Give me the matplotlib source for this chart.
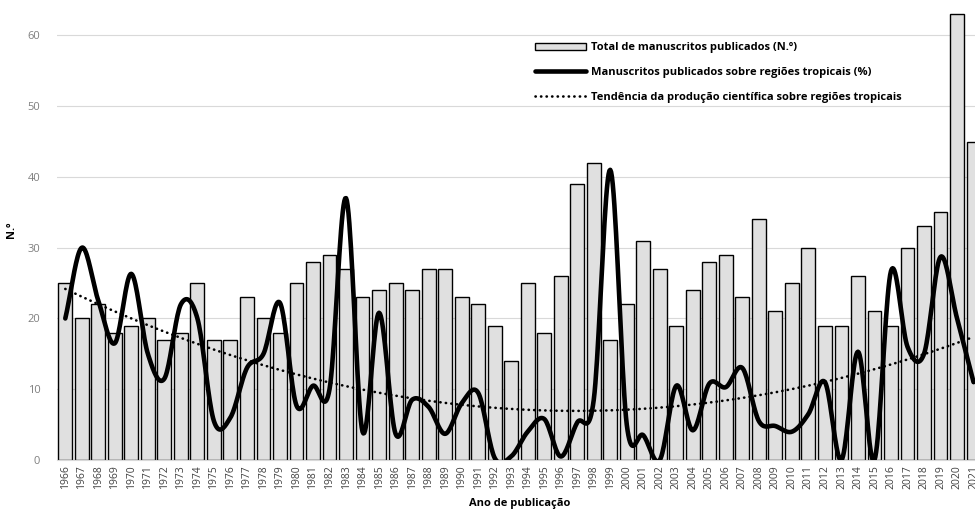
import matplotlib.pyplot as plt
import numpy as np

plt.rcParams['font.family'] = ['Open Sans', 'DejaVu Sans']

years = list(range(1966, 2022))

# total de manuscritos publicados (N.º)
totals = [25, 20, 22, 18, 19, 20, 17, 18, 25, 17,
          17, 23, 20, 18, 25, 28, 29, 27, 23, 24,
          25, 24, 27, 27, 23, 22, 19, 14, 25, 18,
          26, 39, 42, 17, 22, 31, 27, 19, 24, 28,
          29, 23, 34, 21, 25, 30, 19, 19, 26, 21,
          19, 30, 33, 35, 63, 45]

# manuscritos sobre regioes tropicais (%)
tropical = [20, 30, 22.5, 16.5, 26.3, 15, 11.5, 22, 20, 5.5,
            6, 13, 15, 22.2, 7.7, 10.5, 10, 37, 4, 20.8,
            3.7, 8.5, 7.5, 3.7, 8, 9.5, 0.3, 0.5, 4, 5.8,
            0.5, 5.3, 8.5, 41, 5, 3.5, 0, 10.5, 4.2, 10.8,
            10.3, 13, 5.5, 4.8, 4, 6.5, 11, 0, 15.3, 0,
            26.7, 16, 15, 28.7, 20, 11]


def smooth(x, y, n=20):
    # catmull-rom curve, like the excel "smoothed line" option
    x = np.asarray(x, float)
    y = np.asarray(y, float)
    px = np.concatenate([[2 * x[0] - x[1]], x, [2 * x[-1] - x[-2]]])
    py = np.concatenate([[2 * y[0] - y[1]], y, [2 * y[-1] - y[-2]]])
    xs, ys = [], []
    t = np.linspace(0, 1, n, endpoint=False)
    for i in range(1, len(px) - 2):
        for p, out in ((px, xs), (py, ys)):
            p0, p1, p2, p3 = p[i - 1], p[i], p[i + 1], p[i + 2]
            out.extend(0.5 * (2 * p1 + (-p0 + p2) * t
                              + (2 * p0 - 5 * p1 + 4 * p2 - p3) * t ** 2
                              + (-p0 + 3 * p1 - 3 * p2 + p3) * t ** 3))
    xs.append(x[-1])
    ys.append(y[-1])
    return np.array(xs), np.array(ys)


fig = plt.figure(figsize=(9.75, 5.11), dpi=100)
ax = fig.add_axes([0.0585, 0.0998, 0.9485, 0.9002])

pos = np.arange(len(years))
bars = ax.bar(pos, totals, width=0.84, color='#e0e0e0', edgecolor='black',
              linewidth=1.0, label='Total de manuscritos publicados (N.º)', zorder=2)

sx, sy = smooth(pos, tropical)
line, = ax.plot(sx, sy, color='black', lw=3.3, solid_capstyle='round',
                label='Manuscritos publicados sobre regiões tropicais (%)', zorder=3)

# polynomial trend (order 2) of the tropical series
coef = np.polyfit(pos, tropical, 2)
tx = np.linspace(0, len(years) - 1, 300)
trend, = ax.plot(tx, np.polyval(coef, tx), color='black', lw=1.9,
                 linestyle=(0, (0.1, 2.0)), dash_capstyle='round',
                 label='Tendência da produção científica sobre regiões tropicais', zorder=4)

ax.set_xlim(-0.5, len(years) - 0.5)
ax.set_ylim(0, 65)
ax.set_yticks(range(0, 61, 10))
ax.set_xticks(pos)
ax.set_xticklabels(years, rotation=90, fontsize=7.5, color='#404040')
ax.tick_params(axis='y', labelsize=8, labelcolor='#7f7f7f', length=0, pad=12)
ax.tick_params(axis='x', length=0, pad=4)
ax.grid(axis='y', color='#d9d9d9', lw=0.8, zorder=0)
ax.set_axisbelow(True)
for s in ['top', 'right', 'left']:
    ax.spines[s].set_visible(False)
ax.spines['bottom'].set_color('#d9d9d9')

ax.set_ylabel('N.º', fontsize=8, fontweight='bold', labelpad=8)
ax.set_xlabel('Ano de publicação', fontsize=8, fontweight='bold', labelpad=6)

fig.legend([bars, line, trend], [bars.get_label(), line.get_label(), trend.get_label()],
           loc='upper left', bbox_to_anchor=(0.543, 0.928), frameon=False,
           prop={'weight': 'bold', 'size': 8}, handlelength=4.6,
           handletextpad=0.45, labelspacing=1.25, borderpad=0)

fig.savefig('out.png', dpi=100)
